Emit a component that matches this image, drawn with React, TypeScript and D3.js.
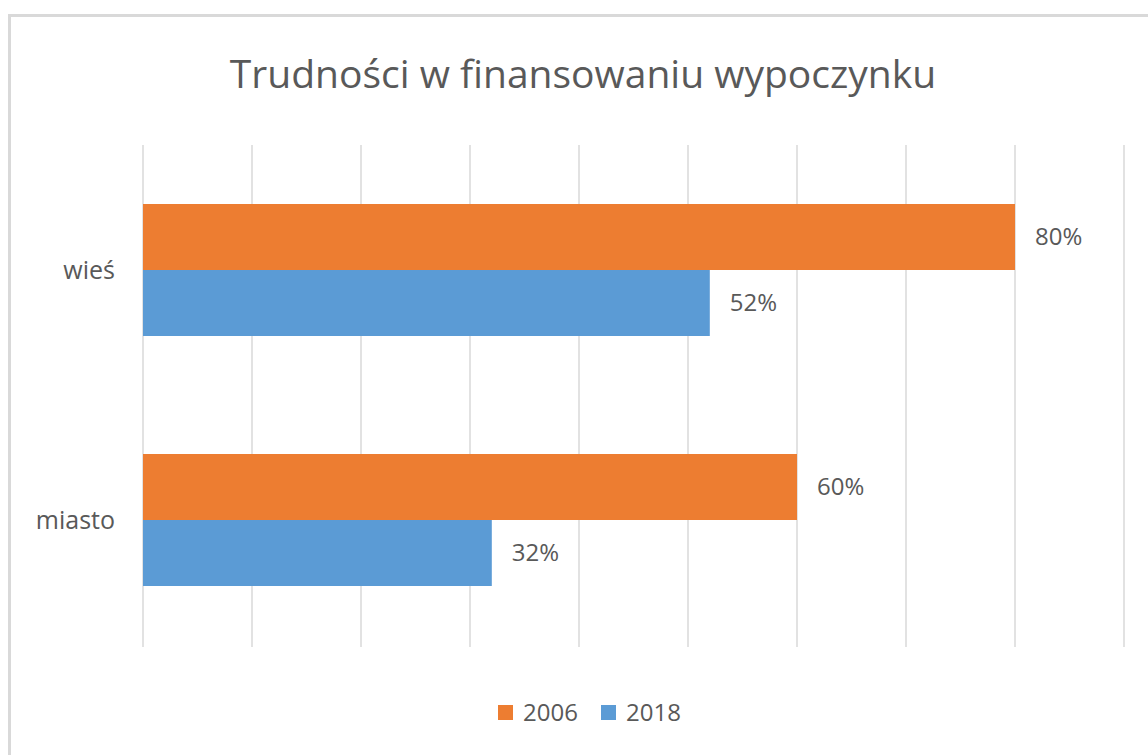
import React from "react";
import * as d3 from "d3";

const categories = ["wieś", "miasto"];
const seriesNames = ["2006", "2018"];
const values2006 = [0.8, 0.6];
const values2018 = [0.52, 0.32];
const xTicks = [0, 0.1, 0.2, 0.3, 0.4, 0.5, 0.6, 0.7, 0.8, 0.9];

const colors = ["#ED7D31", "#5B9BD5"];
const font = "'Open Sans', 'Noto Sans', sans-serif";
const textColor = "#595959";

export default function App() {
  const width = 1148;
  const height = 755;
  const left = 143;
  const right = 1124;
  const top = 145;
  const bottom = 645;

  const x = d3.scaleLinear().domain([0, 0.9]).range([left, right]);
  const y = d3.scaleBand().domain(categories).range([top, bottom]).paddingInner(0.472).paddingOuter(0.236);
  const inner = d3.scaleBand().domain(seriesNames).range([0, y.bandwidth()]);

  const series = [values2006, values2018];
  const fmt = d3.format(".0%");

  return (
    <svg
      width={width}
      height={height}
      style={{ position: "absolute", left: 0, top: 0, background: "#fff" }}
    >
      <rect x={9.5} y={15.5} width={1160} height={760} fill="#fff" stroke="#d9d9d9" strokeWidth={3} />
      <text
        x={583}
        y={88}
        textAnchor="middle"
        fontFamily={font}
        fontSize={39}
        fill={textColor}
      >
        Trudności w finansowaniu wypoczynku
      </text>

      {xTicks.map((t) => (
        <line
          key={t}
          x1={x(t)}
          x2={x(t)}
          y1={top}
          y2={bottom + 2}
          stroke="#d9d9d9"
          strokeWidth={1.5}
        />
      ))}

      {categories.map((c, i) =>
        series.map((vals, s) => {
          const y0 = (y(c) as number) + (inner(seriesNames[s]) as number);
          const h = inner.bandwidth();
          return (
            <g key={c + s}>
              <rect x={x(0)} y={y0} width={x(vals[i]) - x(0)} height={h} fill={colors[s]} />
              <text
                x={x(vals[i]) + 20}
                y={y0 + h / 2}
                dy="0.35em"
                fontFamily={font}
                fontSize={24}
                fill={textColor}
              >
                {fmt(vals[i])}
              </text>
            </g>
          );
        })
      )}

      {categories.map((c) => (
        <text
          key={c}
          x={115}
          y={(y(c) as number) + y.bandwidth() / 2}
          dy="0.35em"
          textAnchor="end"
          fontFamily={font}
          fontSize={25}
          fill={textColor}
        >
          {c}
        </text>
      ))}

      {seriesNames.map((s, i) => {
        const lx = 498 + i * 103;
        return (
          <g key={s}>
            <rect x={lx} y={705} width={15} height={15} fill={colors[i]} />
            <text
              x={lx + 25}
              y={713}
              dy="0.35em"
              fontFamily={font}
              fontSize={24}
              fill={textColor}
            >
              {s}
            </text>
          </g>
        );
      })}
    </svg>
  );
}
